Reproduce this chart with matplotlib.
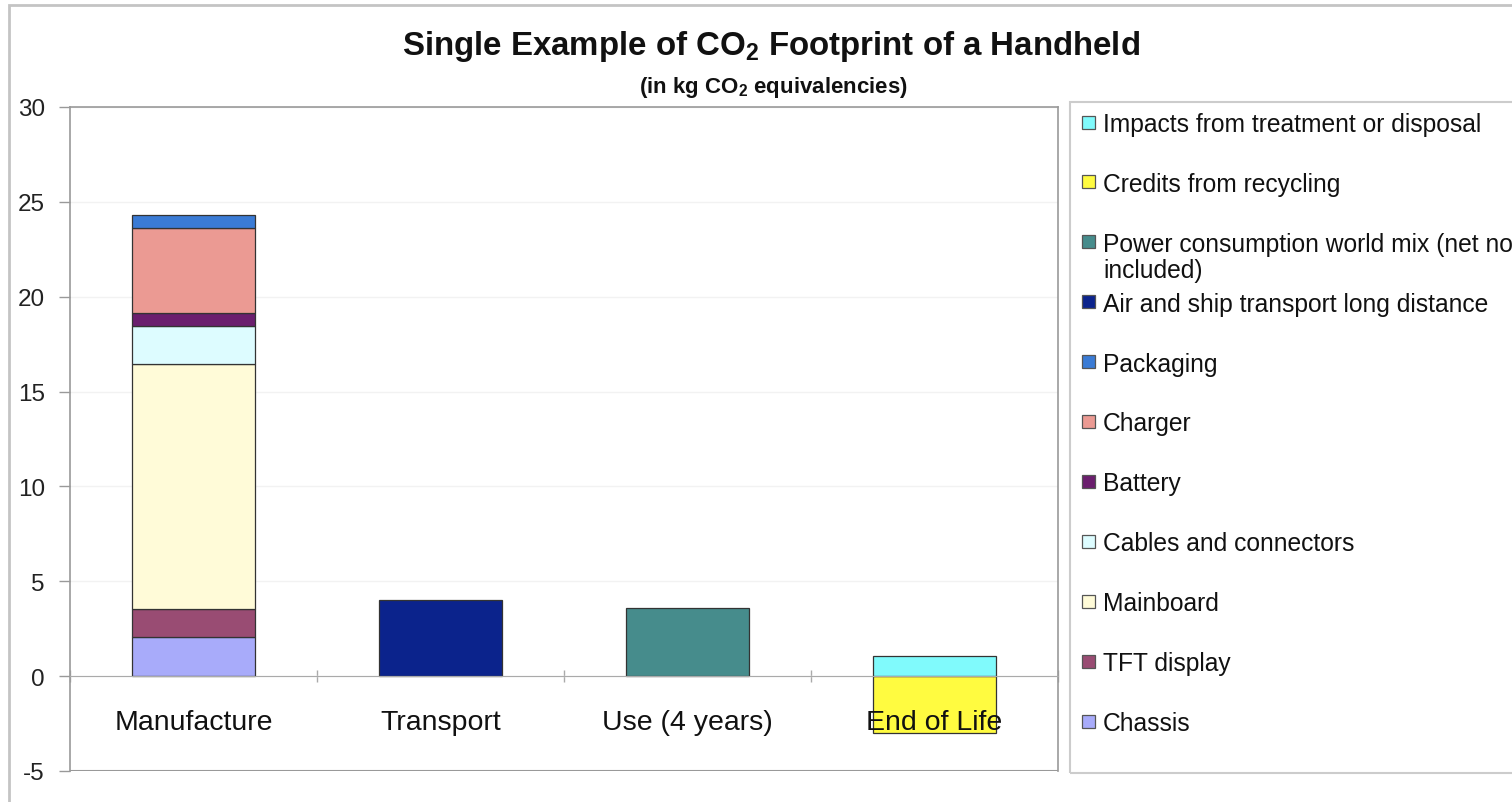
import matplotlib
matplotlib.use('Agg')
import matplotlib.pyplot as plt
from matplotlib.patches import Rectangle
import numpy as np

categories = ['Manufacture', 'Transport', 'Use (4 years)', 'End of Life']

# stacked components, bottom to top
series_names = ['Chassis', 'TFT display', 'Mainboard', 'Cables and connectors',
                'Battery', 'Charger', 'Packaging',
                'Air and ship transport long distance',
                'Power consumption world mix (net not\nincluded)',
                'Credits from recycling', 'Impacts from treatment or disposal']
chassis = [2.05, 0, 0, 0]
tft_display = [1.5, 0, 0, 0]
mainboard = [12.9, 0, 0, 0]
cables = [2.0, 0, 0, 0]
battery = [0.7, 0, 0, 0]
charger = [4.45, 0, 0, 0]
packaging = [0.7, 0, 0, 0]
air_ship = [0, 4.0, 0, 0]
power = [0, 0, 3.6, 0]
credits = [0, 0, 0, -3.0]
impacts = [0, 0, 0, 1.05]
series_values = [chassis, tft_display, mainboard, cables, battery, charger,
                 packaging, air_ship, power, credits, impacts]
series_colors = ['#a8abfa', '#994c73', '#fffbd8', '#ddfcff', '#6b1e6e',
                 '#eb9a93', '#3a7bd5', '#0b238c', '#468c8c', '#fffb40', '#80fafc']

yticks = [-5, 0, 5, 10, 15, 20, 25, 30]

plt.rcParams['font.family'] = 'Liberation Sans'
plt.rcParams['mathtext.fontset'] = 'custom'
plt.rcParams['mathtext.rm'] = 'Liberation Sans'
plt.rcParams['mathtext.bf'] = 'Liberation Sans:bold'

W, H = 1512, 803
fig = plt.figure(figsize=(W / 100, H / 100), dpi=100, facecolor='white')


def fx(px):
    return px / W


def fy(py):
    return 1 - py / H


ax = fig.add_axes([fx(70), fy(772), fx(1058) - fx(70), fy(108) - fy(772)])

x = np.arange(len(categories))
pos_bottom = np.zeros(len(categories))
neg_bottom = np.zeros(len(categories))
for vals, color in zip(series_values, series_colors):
    vals = np.array(vals, dtype=float)
    for i, v in enumerate(vals):
        if v == 0:
            continue
        if v > 0:
            ax.bar(x[i], v, 0.5, bottom=pos_bottom[i], color=color,
                   edgecolor='#333333', linewidth=0.9, zorder=2)
            pos_bottom[i] += v
        else:
            ax.bar(x[i], v, 0.5, bottom=neg_bottom[i], color=color,
                   edgecolor='#333333', linewidth=0.9, zorder=2)
            neg_bottom[i] += v

ax.set_xlim(-0.5, len(categories) - 0.5)
ax.set_ylim(-5, 30)
ax.set_yticks(yticks)
ax.set_yticklabels([str(t) for t in yticks], fontsize=17.5, color='#222222')
ax.tick_params(axis='y', direction='out', length=8, width=1, color='#999999', pad=10)

# zero line carries the category ticks
ax.set_xticks(np.arange(len(categories) + 1) - 0.5)
ax.set_xticklabels([])
ax.tick_params(axis='x', direction='inout', length=8, width=1, color='#aaaaaa')
ax.spines['bottom'].set_position(('data', 0))
ax.spines['bottom'].set_color('#aaaaaa')
ax.axhline(-5, color='#999999', linewidth=1.5, zorder=3)
for s in ['left', 'top', 'right']:
    ax.spines[s].set_color('#999999')
    ax.spines[s].set_linewidth(1.2)
ax.grid(axis='y', color='#f2f2f2', linewidth=1, zorder=0)

for i, cat in enumerate(categories):
    ax.text(x[i], -2.4, cat, ha='center', va='center', fontsize=20.5,
            color='#111111', zorder=5)

fig.text(fx(771), fy(47), r'Single Example of CO$_\mathbf{2}$ Footprint of a Handheld',
         ha='center', va='center', fontsize=23.8, fontweight='bold', color='#111111')
fig.text(fx(773), fy(87), r'(in kg CO$_\mathbf{2}$ equivalencies)',
         ha='center', va='center', fontsize=16, fontweight='bold', color='#111111')

# outer chart border and legend box
fig.add_artist(Rectangle((fx(9), fy(830)), fx(1540) - fx(9), fy(6) - fy(830),
                         transform=fig.transFigure, fill=False,
                         edgecolor='#c4c4c4', linewidth=2))
fig.add_artist(Rectangle((fx(1070), fy(774)), fx(1540) - fx(1070), fy(103) - fy(774),
                         transform=fig.transFigure, fill=False,
                         edgecolor='#cccccc', linewidth=1.5))

row0, step = 123, 59.9
for k, (name, color) in enumerate(zip(series_names[::-1], series_colors[::-1])):
    yc = row0 + k * step
    fig.add_artist(Rectangle((fx(1082), fy(yc + 6.5)), fx(13), 13 / H,
                             transform=fig.transFigure, facecolor=color,
                             edgecolor='#555555', linewidth=0.9))
    fig.text(fx(1103), fy(yc - 10), name, ha='left', va='top',
             fontsize=17.7, color='#111111', linespacing=1.1)

plt.savefig('out.png', dpi=100, facecolor='white')
